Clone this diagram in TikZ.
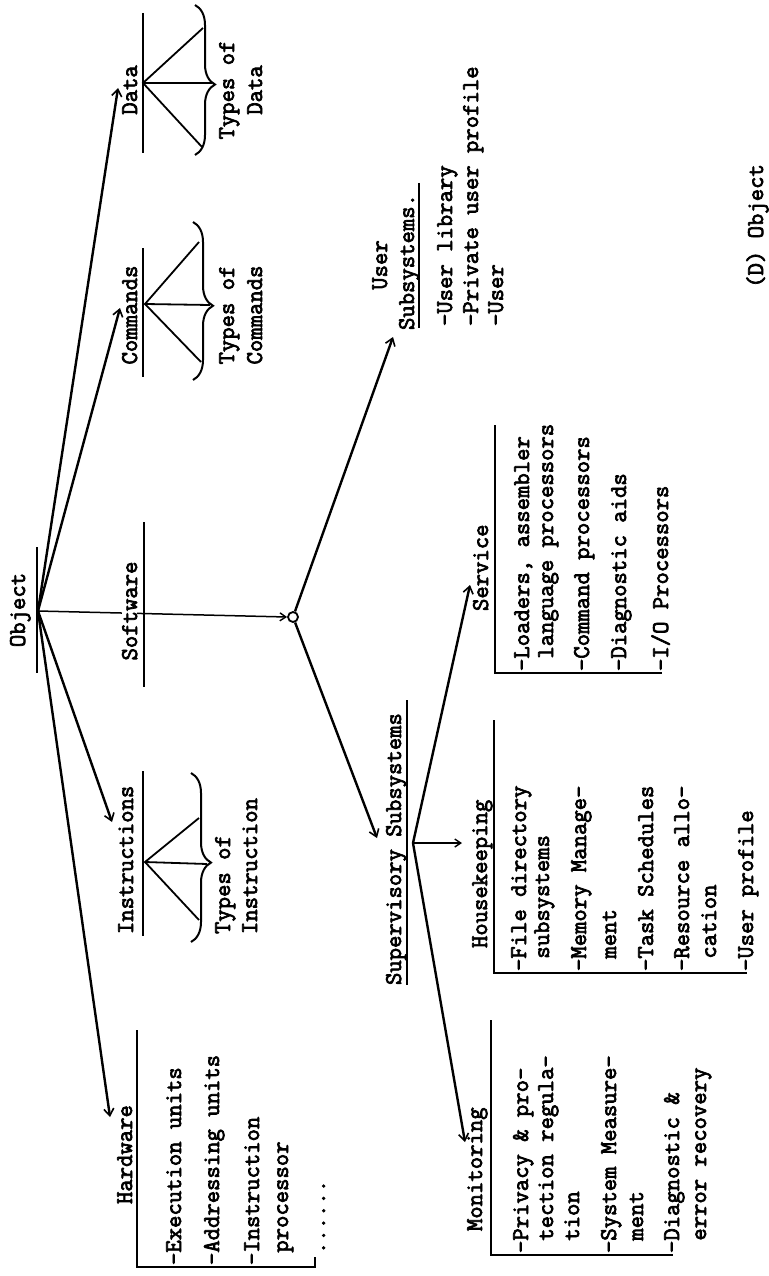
\documentclass[tikz,border=0pt]{standalone}
\usepackage{fontspec}
\newfontfamily\tw{Latin Modern Mono}[FakeBold=3]
\usetikzlibrary{arrows.meta,decorations.pathreplacing}
\begin{document}
\begin{tikzpicture}[x=1pt,y=-1pt,
  lbl/.style={rotate=90, inner sep=0pt, outer sep=0pt, font=\tw\fontsize{24}{26}\selectfont},
  item/.style={lbl, anchor=base west},
  ctr/.style={lbl, anchor=base},
  uline/.style={line width=1.8pt},
  fan/.style={line width=1.8pt},
  arr/.style={line width=2.4pt, -{Straight Barb[length=7pt,width=10pt,line width=1.6pt]}},
  thinarr/.style={line width=1.5pt, -{Straight Barb[length=6pt,width=8pt,line width=1.4pt]}},
  br/.style={line width=2pt, decorate, decoration={brace, amplitude=20pt, aspect=0.53}},
]
\fill[white] (0,0) rectangle (768,1276);
\useasboundingbox (0,0) rectangle (768,1276);

% ---------- Object ----------
\node[ctr] (obj) at (25,610) {Object};
\draw[uline] (37,547) -- (37,673);
\coordinate (objA) at (38,611);

% ---------- Data ----------
\node[ctr] (data) at (137,90) {Data};
\draw[uline] (143,13) -- (143,153);
\coordinate (dataA) at (143,83);
\coordinate (dataT) at (118,88);
\draw[br] (195,5) -- (195,155);
\coordinate (dataB1) at (203,28);
\coordinate (dataB2) at (212,83);
\coordinate (dataB3) at (202,147);
\draw[fan] (dataB1) -- (dataA) -- (dataB3);
\draw[fan] (dataA) -- (dataB2);
\node[ctr] (tdata1) at (234,90) {Types of};
\node[ctr] (tdata2) at (262,90) {Data};

% ---------- Commands ----------
\node[ctr] (cmd) at (137,315) {Commands};
\draw[uline] (143,248) -- (143,377);
\coordinate (cmdA) at (145,304);
\coordinate (cmdT) at (120,308);
\draw[br] (193,222) -- (193,380);
\coordinate (cmdB1) at (199,242);
\coordinate (cmdB2) at (210,305);
\coordinate (cmdB3) at (201,362);
\draw[fan] (cmdB1) -- (cmdA) -- (cmdB3);
\draw[fan] (cmdA) -- (cmdB2);
\node[ctr] (tcmd1) at (234,315) {Types of};
\node[ctr] (tcmd2) at (262,315) {Commands};

% ---------- Instructions ----------
\node[item] (ins) at (133,934) {Instructions};
\draw[uline] (143,771) -- (143,936);
\coordinate (insA) at (145,862);
\coordinate (insT) at (112,822);
\draw[br] (191,773) -- (191,942);
\coordinate (insB1) at (199,818);
\coordinate (insB2) at (207,864);
\coordinate (insB3) at (199,920);
\draw[fan] (insB1) -- (insA) -- (insB3);
\draw[fan] (insA) -- (insB2);
\node[item] (tins1) at (230,934) {Types of};
\node[item] (tins2) at (257,934) {Instruction};

% ---------- Software ----------
\node[circle, draw, line width=1.8pt, minimum size=10pt, inner sep=0pt] (circ) at (293,617) {};
\draw[thinarr] (objA) -- (circ.west);
\node[ctr, fill=white, inner xsep=3pt] (soft) at (137,611) {Software};
\draw[uline] (144,522) -- (144,687);

% ---------- Hardware ----------
\node[item] (hw) at (132,1204) {Hardware};
\coordinate (hwT) at (110,1117);
\draw[uline] (137,1030) -- (137,1267) -- (315,1267) -- (315,1257);
\node[item] (hw1) at (181,1265) {-Execution units};
\node[item] (hw2) at (219,1265) {-Addressing units};
\node[item] (hw3) at (259,1265) {-Instruction};
\node[item] (hw4) at (288,1265) {\phantom{-}processor};
\node[item] (hw5) at (325,1254) {......};

% ---------- arrows from Object ----------
\draw[arr] (objA) -- (dataT);
\draw[arr] (objA) -- (cmdT);
\draw[arr] (objA) -- (insT);
\draw[arr] (objA) -- (hwT);

% ---------- User Subsystems ----------
\node[ctr] (usr1) at (387,265) {User};
\node[ctr] (usr2) at (414,262) {Subsystems.};
\draw[uline] (419,183) -- (419,328);
\coordinate (usrT) at (393,337);
\draw[arr] (circ) -- (usrT);
\node[item] (u1) at (452,326) {-User library};
\node[item] (u2) at (478,326) {-Private user profile};
\node[item] (u3) at (503,326) {-User};

% ---------- Supervisory Subsystems ----------
\node[item] (sup) at (401,985) {Supervisory Subsystems};
\draw[uline] (407,700) -- (407,985);
\coordinate (supT) at (377,838);
\draw[arr] (circ) -- (supT);
\coordinate (supA) at (413,843);
\coordinate (hkT) at (462,843);
\coordinate (svT) at (470,585);
\coordinate (monT) at (465,1142);
\draw[thinarr] (supA) -- (hkT);
\draw[arr] (supA) -- (svT);
\draw[arr] (supA) -- (monT);

% ---------- Housekeeping ----------
\node[item] (hk) at (487,948) {Housekeeping};
\draw[uline] (494,720) -- (494,973) -- (747,973);
\node[item] (hk1) at (526,971) {-File directory};
\node[item] (hk2) at (549,971) {\phantom{-}subsystems};
\node[item] (hk3) at (586,971) {-Memory Manage-};
\node[item] (hk4) at (616,971) {\phantom{-}ment};
\node[item] (hk5) at (653,971) {-Task Schedules};
\node[item] (hk6) at (689,971) {-Resource allo-};
\node[item] (hk7) at (716,971) {\phantom{-}cation};
\node[item] (hk8) at (753,971) {-User profile};

% ---------- Monitoring ----------
\node[item] (mon) at (482,1231) {Monitoring};
\draw[uline] (491,1020) -- (491,1255) -- (673,1255);
\node[item] (m1) at (528,1253) {-Privacy \& pro-};
\node[item] (m2) at (553,1253) {\phantom{-}tection regula-};
\node[item] (m3) at (579,1253) {\phantom{-}tion};
\node[item] (m4) at (616,1253) {-System Measure-};
\node[item] (m5) at (643,1253) {\phantom{-}ment};
\node[item] (m6) at (679,1253) {-Diagnostic \&};
\node[item] (m7) at (706,1253) {\phantom{-}error recovery};

% ---------- Service ----------
\node[item] (sv) at (488,611) {Service};
\draw[uline] (495,425) -- (495,673) -- (662,673);
\node[item] (s1) at (529,671) {-Loaders, assembler};
\node[item] (s2) at (553,671) {\phantom{-}language processors};
\node[item] (s3) at (589,671) {-Command processors};
\node[item] (s4) at (626,671) {-Diagnostic aids};
\node[item] (s5) at (668,671) {-I/O Processors};

% ---------- caption ----------
\node[ctr] (cap) at (763,226) {(D) Object};
\end{tikzpicture}
\end{document}
